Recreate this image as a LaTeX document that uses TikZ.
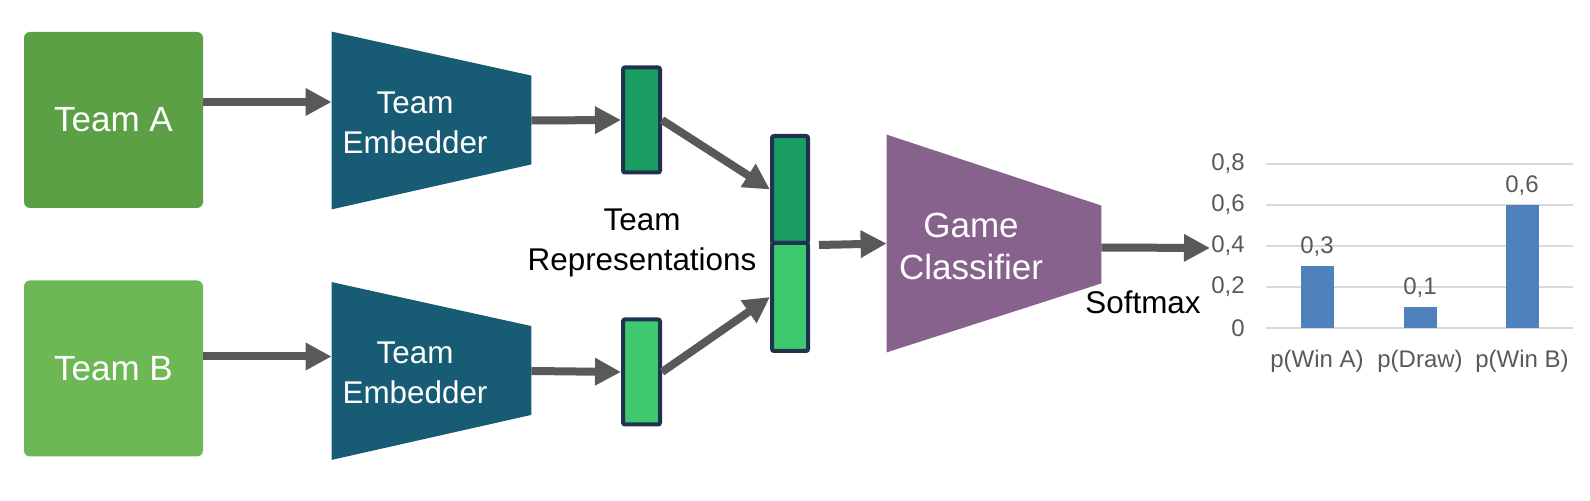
\documentclass[tikz,border=0pt]{standalone}
\usepackage{fontspec}
\setmainfont{Liberation Sans}
\usetikzlibrary{arrows.meta,calc}

\definecolor{teamAcol}{HTML}{5BA044}
\definecolor{teamBcol}{HTML}{6BB854}
\definecolor{embcol}{HTML}{175C74}
\definecolor{clscol}{HTML}{86628C}
\definecolor{vecAcol}{HTML}{1A9E64}
\definecolor{vecBcol}{HTML}{3FC96E}
\definecolor{vecline}{HTML}{1F3350}
\definecolor{arrgray}{HTML}{595959}
\definecolor{barcol}{HTML}{4F81BD}
\definecolor{gridcol}{HTML}{D9D9D9}
\definecolor{charttext}{HTML}{595959}

\tikzset{
  arr/.style={line width=4pt, draw=arrgray, -{Triangle[length=13pt,width=13pt]}},
  teambox/.style={rectangle, rounded corners=3pt, minimum width=89.5pt, minimum height=88pt,
    text=white, font=\fontsize{17.5}{20}\selectfont},
  shapebox/.style={rectangle, inner sep=0pt},
  vecbox/.style={rectangle, draw=vecline, line width=2pt, rounded corners=1pt,
    minimum width=18.5pt, inner sep=0pt},
  bigtxt/.style={font=\fontsize{15.7}{20}\selectfont, align=center},
  chartlbl/.style={font=\fontsize{12}{13}\selectfont, text=charttext, inner sep=1pt},
  gridln/.style={draw=gridcol, line width=0.75pt},
}

\begin{document}
\begin{tikzpicture}[x=0.5pt,y=-0.5pt]
\useasboundingbox (0,0) rectangle (1590,501);

% teams
\node[teambox, fill=teamAcol] (teamA) at (113.5,120) {Team A};
\node[teambox, fill=teamBcol] (teamB) at (113.5,368.5) {Team B};

% embedders
\foreach \t/\y in {A/120.5, B/371} {
  \node[shapebox, minimum width=99.5pt, minimum height=88.5pt] (emb\t) at (431.5,\y) {};
  \fill[embcol] (emb\t.north west) -- ($(emb\t.north east)+(0,44)$)
    -- ($(emb\t.south east)+(0,-45)$) -- (emb\t.south west) -- cycle;
  \node[bigtxt, text=white] (emb\t txt) at (415,{\y+2}) {Team\\Embedder};
}

% team representations
\node[vecbox, fill=vecAcol, minimum height=52.5pt] (vecA) at (641.5,120) {};
\node[vecbox, fill=vecBcol, minimum height=52.5pt] (vecB) at (641.5,372) {};
\node[vecbox, fill=vecAcol, minimum width=18pt, minimum height=53.5pt] (catA) at (790,189.5) {};
\node[vecbox, fill=vecBcol, minimum width=18pt, minimum height=54pt] (catB) at (790,297) {};
\node[bigtxt] (reprtxt) at (642,243) {Team\\Representations};

% classifier
\node[shapebox, minimum width=107pt, minimum height=108.5pt] (cls) at (994,243.5) {};
\fill[clscol] (cls.north west) -- ($(cls.north east)+(0,71)$)
  -- ($(cls.south east)+(0,-69)$) -- (cls.south west) -- cycle;
\node[bigtxt, font=\fontsize{17.5}{21}\selectfont, text=white] (clstxt) at (971,246) {Game\\Classifier};
\node[bigtxt] (softmax) at (1143,302) {Softmax};
\coordinate (chartin) at (1210,248);

% connectors
\draw[arr] ([yshift=9pt]teamA.east) -- ([yshift=9pt]teamA.east -| embA.west);
\draw[arr] ([yshift=6pt]teamB.east) -- ([yshift=6pt]teamB.east -| embB.west);
\draw[arr] (embA.east) -- (vecA.west);
\draw[arr] (embB.east) -- (vecB.west);
\draw[arr] (vecA.east) -- (catA.west);
\draw[arr] (vecB.east) -- (catB.west);
\draw[arr] ([xshift=4.5pt]catA.south east) -- (cls.west);
\draw[arr] ([yshift=-2pt]cls.east) -- (chartin);

% chart
\foreach \v/\lab [count=\i] in {0/0, 0.2/{0,2}, 0.4/{0,4}, 0.6/{0,6}, 0.8/{0,8}} {
  \draw[gridln] (1266,{328-\v*205}) -- (1573,{328-\v*205});
  \node[chartlbl, anchor=east] (tick\i) at (1247,{328-\v*205}) {\lab};
}
\foreach \x/\p/\val/\lab [count=\i] in {1317/0.3/{0,3}/{p(Win A)}, 1420/0.1/{0,1}/{p(Draw)}, 1522/0.6/{0,6}/{p(Win B)}} {
  \fill[barcol] ({\x-16.5},328) rectangle ({\x+16.5},{328-\p*205});
  \node[chartlbl] (val\i) at (\x,{328-\p*205-19.5}) {\val};
  \node[chartlbl] (cat\i) at (\x,361) {\lab};
}
\end{tikzpicture}
\end{document}
